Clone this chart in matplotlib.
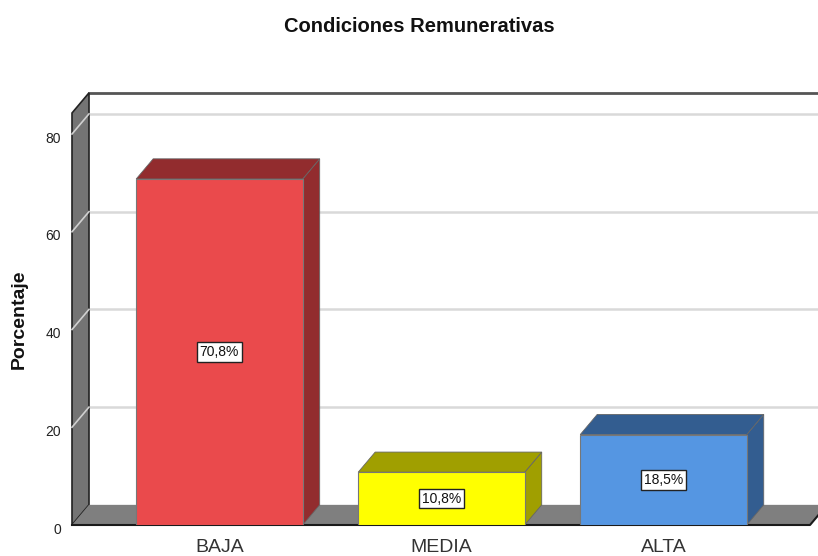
import matplotlib
matplotlib.use("Agg")
import matplotlib.pyplot as plt
from matplotlib.patches import Polygon
from matplotlib.transforms import ScaledTranslation

plt.rcParams['font.family'] = ['Liberation Sans', 'DejaVu Sans']

# data
categorias = ['BAJA', 'MEDIA', 'ALTA']
porcentajes = [70.8, 10.8, 18.5]
etiquetas = ['70,8%', '10,8%', '18,5%']
color_frente = ['#ea4a4c', '#ffff00', '#5596e2']
color_lado = ['#922c2e', '#a09f00', '#335d90']
yticks = [0, 20, 40, 60, 80]

# 3d look: depth offset in data units
dx = 17 / 222.0
dy = 20 / 4.85
ancho = 0.75
xmin, xmax = -0.664, 2.696
ymax = 84.3

fig = plt.figure(figsize=(8.18, 5.56), dpi=100)
ax = fig.add_axes([72 / 818, 31 / 556, 746 / 818, 412 / 556])
ax.set_xlim(xmin, xmax)
ax.set_ylim(0, ymax)
for s in ax.spines.values():
    s.set_visible(False)

# back wall
ax.add_patch(Polygon([(xmin + dx, dy), (xmax + 1, dy), (xmax + 1, ymax + dy), (xmin + dx, ymax + dy)],
                     closed=True, fc='white', ec='none', clip_on=False, zorder=0))
for v in yticks[1:]:
    ax.plot([xmin + dx, xmax + 1], [v + dy, v + dy], color='#d9d9d9', lw=1.8, clip_on=False, zorder=1)
ax.plot([xmin + dx, xmax + 1], [ymax + dy, ymax + dy], color='#555555', lw=2, clip_on=False, zorder=1)

# left wall
ax.add_patch(Polygon([(xmin, 0), (xmin + dx, dy), (xmin + dx, ymax + dy), (xmin, ymax)],
                     closed=True, fc='#747474', ec='#222222', lw=1.2, clip_on=False, zorder=2))
for v in yticks[1:]:
    ax.plot([xmin, xmin + dx], [v, v + dy], color='#d0d0d0', lw=1.2, clip_on=False, zorder=2)

# floor
piso_der = 2.66
ax.add_patch(Polygon([(xmin, 0), (piso_der, 0), (piso_der + dx, dy), (xmin + dx, dy)],
                     closed=True, fc='#7f7f7f', ec='none', clip_on=False, zorder=3))
ax.plot([xmin, piso_der, piso_der + dx], [0, 0, dy], color='#1a1a1a', lw=1.5, clip_on=False, zorder=3)

# bars
for i, v in enumerate(porcentajes):
    x0 = i - ancho / 2
    x1 = i + ancho / 2
    ax.add_patch(Polygon([(x1, 0), (x1 + dx, dy), (x1 + dx, v + dy), (x1, v)],
                         closed=True, fc=color_lado[i], ec='#666666', lw=0.6, zorder=4))
    ax.add_patch(Polygon([(x0, v), (x1, v), (x1 + dx, v + dy), (x0 + dx, v + dy)],
                         closed=True, fc=color_lado[i], ec='#666666', lw=0.6, zorder=4))
    ax.add_patch(Polygon([(x0, 0), (x1, 0), (x1, v), (x0, v)],
                         closed=True, fc=color_frente[i], ec='#777777', lw=0.8, zorder=5))
    ax.text(i, v / 2, etiquetas[i], ha='center', va='center', fontsize=10, color='#111111', zorder=6,
            bbox=dict(boxstyle='square,pad=0.2', fc='white', ec='#222222', lw=1))

ax.set_yticks(yticks)
ax.set_yticklabels([str(t) for t in yticks], fontsize=10, color='#222222')
ax.set_xticks(range(len(categorias)))
ax.set_xticklabels(categorias, fontsize=14, color='#333333')
ax.tick_params(axis='y', length=0, pad=8)
ax.tick_params(axis='x', length=0, pad=10)
for lab in ax.get_yticklabels():
    lab.set_transform(lab.get_transform() + ScaledTranslation(0, -3 / 100, fig.dpi_scale_trans))

ax.set_ylabel('Porcentaje', fontsize=14, fontweight='bold', color='#111111')
ax.yaxis.set_label_coords(-0.059, 0.5)

fig.suptitle('Condiciones Remunerativas', x=0.513, y=0.97, fontsize=14.5, fontweight='bold', color='#111111')

fig.savefig('out.png', dpi=100)
